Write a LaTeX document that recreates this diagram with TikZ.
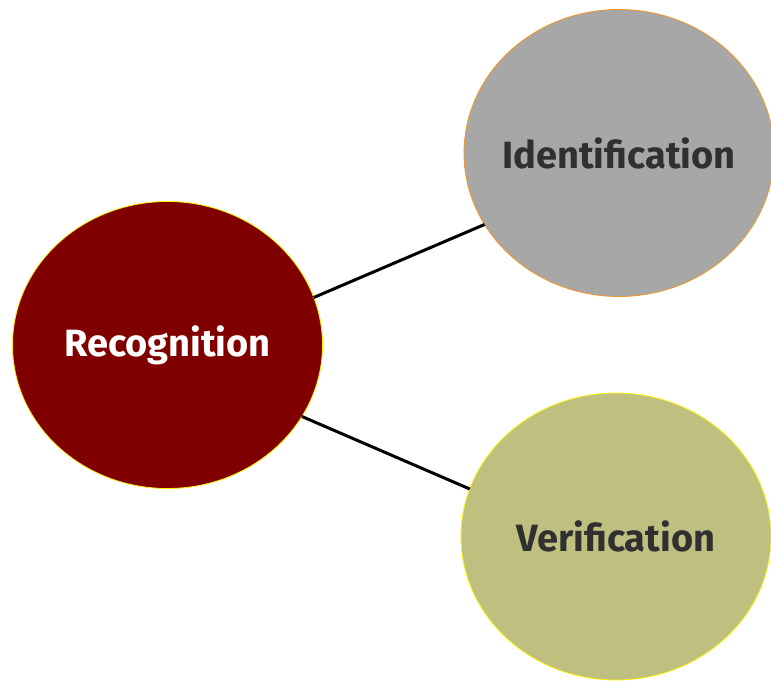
\documentclass[tikz,border=0pt]{standalone}
\usepackage{fontspec}
\setmainfont{Fira Sans}
\usetikzlibrary{positioning}
\usetikzlibrary{shapes}
\definecolor{recred}{RGB}{128,0,0}
\definecolor{idgray}{RGB}{167,167,167}
\definecolor{verolive}{RGB}{191,191,128}
\definecolor{edgeorange}{RGB}{247,148,29}
\definecolor{textgray}{RGB}{48,48,48}
\tikzset{
        bubble/.style={ellipse, inner sep=0pt, outer sep=0pt, line width=0.8pt,
            minimum width=310pt, minimum height=287pt},
        bubble_text/.style={align=center, inner sep=0pt,
            font=\fontsize{38}{40}\selectfont\bfseries},
        % Main node
        node_main/.style={bubble, fill=recred, draw=yellow,
            label={[bubble_text, text=white]center:#1}},
        % Sub nodes
        node_ident/.style={bubble, fill=idgray, draw=edgeorange,
            label={[bubble_text, text=textgray]center:#1}},
        node_verif/.style={bubble, fill=verolive, draw=yellow,
            label={[bubble_text, text=textgray]center:#1}},
        link/.style={black, line width=3pt}
}
\begin{document}
\begin{tikzpicture}[x=1pt, y=-1pt]
    \useasboundingbox (0,0) rectangle (771,681);
    \node[node_main=Recognition] (rec) at (167.5,345) {};
    \node[node_ident=Identification] (ide) at (619,153) {};
    \node[node_verif=Verification] (ver) at (616,536.5) {};
    \draw[link] (rec.18) -- (ide.208);
    \draw[link] (rec.-28) -- (ver.162);
\end{tikzpicture}
\end{document}
